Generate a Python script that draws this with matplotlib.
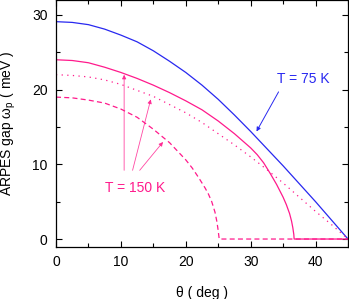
import numpy as np
import matplotlib
matplotlib.use("Agg")
import matplotlib.pyplot as plt
from matplotlib.ticker import MultipleLocator

plt.rcParams["font.family"] = ["Liberation Sans", "DejaVu Sans"]
plt.rcParams["mathtext.fontset"] = "custom"
plt.rcParams["mathtext.rm"] = "Liberation Sans"

BLUE = "#2828f0"
PINK = "#ff1a8c"

# T = 75 K (blue, solid)
theta_75 = [0, 2.5, 5, 7.5, 10, 12.5, 15, 17.5, 20, 22.5, 25, 27.5, 30, 32.5,
            35, 37.5, 40, 42.5, 45]
gap_75 = [29.1, 29.0, 28.7, 28.1, 27.3, 26.4, 25.2, 23.8, 22.3, 20.6, 18.7,
          16.6, 14.4, 12.1, 9.8, 7.4, 5.0, 2.5, 0.0]

# T = 150 K, solid
theta_150s = [0, 2.5, 5, 7.5, 10, 12.5, 15, 17.5, 20, 22.5, 25, 27.5, 30,
              31, 32, 33, 34, 35, 35.5, 36, 36.3, 36.5, 36.65, 36.7, 45]
gap_150s = [24.0, 23.9, 23.6, 23.0, 22.3, 21.5, 20.6, 19.6, 18.5, 17.3, 15.8,
            14.1, 12.2, 11.3, 10.2, 8.8, 7.3, 5.6, 4.6, 3.4, 2.4, 1.5, 0.6,
            0.0, 0.0]

# T = 150 K, dotted
theta_150d = [0, 2.5, 5, 7.5, 10, 12.5, 15, 17.5, 20, 22.5, 25, 27.5, 30,
              32.5, 35, 37.5, 40, 42.5, 45]
gap_150d = [22.0, 21.9, 21.7, 21.3, 20.7, 19.9, 19.1, 18.0, 16.9, 15.6, 14.1,
            12.6, 11.0, 9.3, 7.5, 5.6, 3.7, 1.9, 0.0]

# T = 150 K, dashed
theta_150k = [0, 2.5, 5, 7.5, 10, 12.5, 15, 17.5, 20, 21, 22, 23, 23.5, 24,
              24.5, 24.8, 25, 25.15, 45]
gap_150k = [19.0, 18.9, 18.6, 18.2, 17.4, 16.3, 14.7, 12.9, 10.6, 9.5, 8.2,
            6.8, 6.0, 5.0, 3.6, 2.3, 1.1, 0.0, 0.0]

fig = plt.figure(figsize=(3.49, 2.99), dpi=100)
ax = fig.add_axes([56 / 349, 1 - 246.5 / 299, 292 / 349, 246.5 / 299])

ax.plot(theta_75, gap_75, color=BLUE, lw=0.9)
ax.plot(theta_150s, gap_150s, color=PINK, lw=0.9)
ax.plot(theta_150d, gap_150d, color=PINK, lw=0.9, linestyle=(0, (1, 3.5)))
ax.plot(theta_150k, gap_150k, color=PINK, lw=0.9, linestyle=(0, (4, 2.6)))

ax.set_xlim(0, 45)
ax.set_ylim(-1, 32)
ax.xaxis.set_major_locator(MultipleLocator(10))
ax.xaxis.set_minor_locator(MultipleLocator(5))
ax.yaxis.set_major_locator(MultipleLocator(10))
ax.yaxis.set_minor_locator(MultipleLocator(5))
ax.tick_params(which="both", direction="in", top=True, right=True,
               labelsize=10, width=0.8)
ax.tick_params(which="major", length=4.5, pad=6)
ax.tick_params(which="minor", length=3)
for s in ax.spines.values():
    s.set_linewidth(0.9)

ax.set_xlabel("θ ( deg )", fontsize=10, labelpad=12)
ax.set_ylabel(r"ARPES gap ω$_\mathregular{p}$ ( meV )", fontsize=10, labelpad=10)

# labels and arrows
ax.text(38.1, 21.4, "T = 75 K", color=BLUE, fontsize=10, ha="center", va="center")
ax.annotate("", xy=(30.9, 14.4), xytext=(34.3, 19.7),
            arrowprops=dict(arrowstyle="-|>", color=BLUE, lw=0.7, mutation_scale=6,
                            shrinkA=0, shrinkB=0))

ax.text(12.2, 6.8, "T = 150 K", color=PINK, fontsize=10, ha="center", va="center")
tips = [(10.5, 22.0), (14.6, 18.7), (16.5, 13.0)]
tails = [(10.5, 9.2), (11.8, 9.2), (12.9, 9.2)]
for tip, tail in zip(tips, tails):
    ax.annotate("", xy=tip, xytext=tail,
                arrowprops=dict(arrowstyle="-|>", color=PINK, lw=0.6, alpha=0.8,
                                mutation_scale=6, shrinkA=0, shrinkB=0))

fig.savefig("out.png", dpi=100)
